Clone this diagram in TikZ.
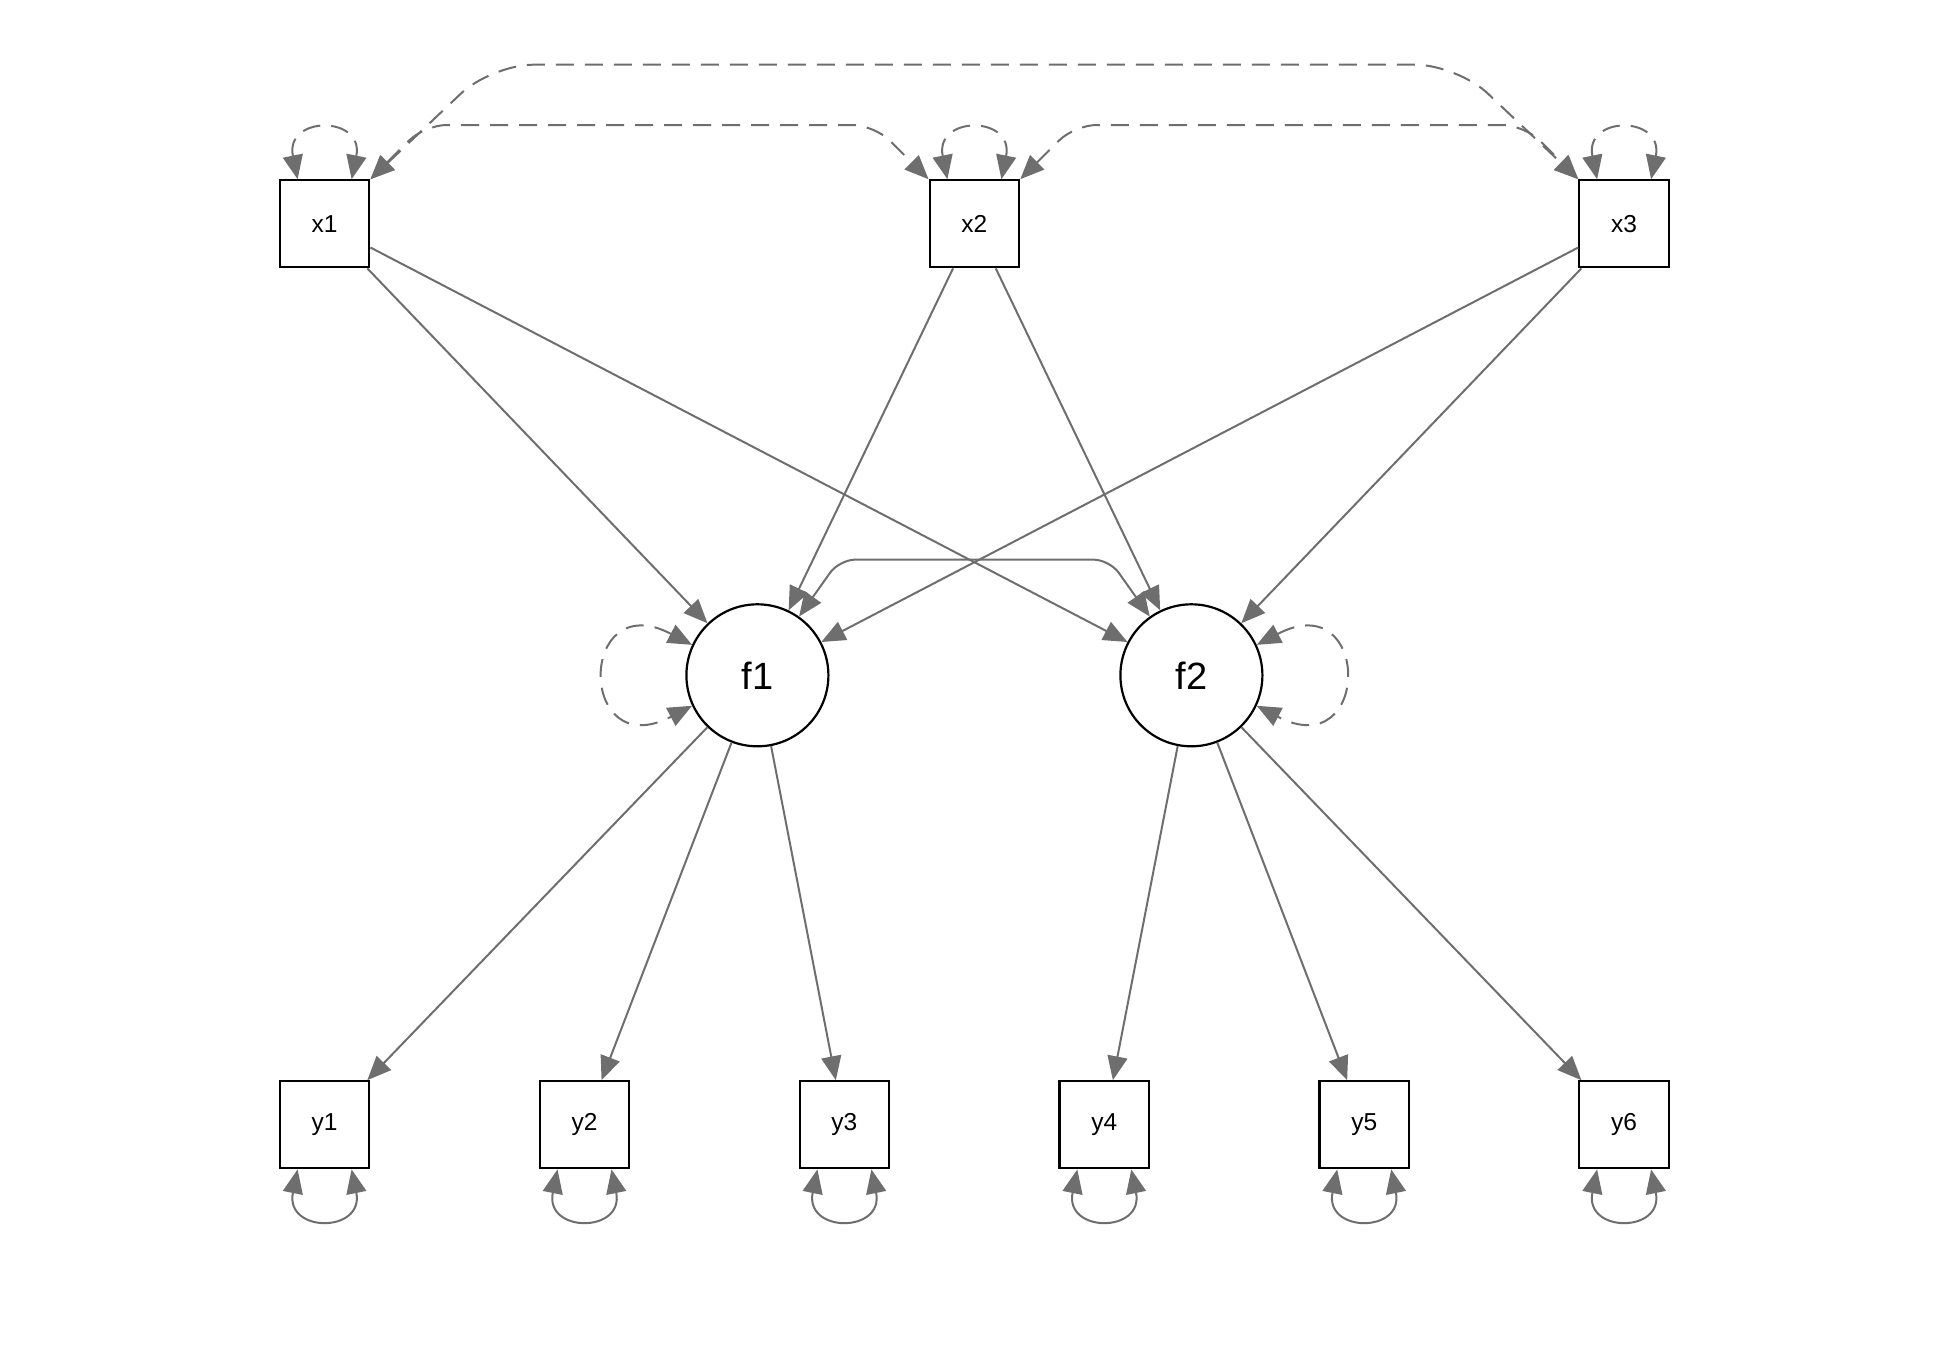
\documentclass[tikz,border=0pt]{standalone}
\usepackage{fontspec}
\setmainfont{Liberation Sans}
\usetikzlibrary{arrows.meta}
\definecolor{edgegray}{HTML}{6E6E6E}
\begin{document}
\begin{tikzpicture}[x=1pt,y=-1pt,
  obs/.style={draw=black,line width=2.2pt,fill=white,minimum width=89.5pt,
    minimum height=87pt,inner sep=0pt,font=\fontsize{24.5}{29}\selectfont},
  lat/.style={circle,draw=black,line width=2.2pt,fill=white,minimum size=142pt,
    inner sep=0pt,font=\fontsize{38}{45}\selectfont},
  reg/.style={draw=edgegray,line width=2pt,-{Triangle[length=24pt,width=20pt]}},
  cov/.style={draw=edgegray,line width=2pt,
    {Triangle[length=24pt,width=20pt]}-{Triangle[length=24pt,width=20pt]}},
  dashline/.style={dash pattern=on 18pt off 11pt}
]
\useasboundingbox (0,0) rectangle (1950,1350);

% exogenous observed variables
\node[obs] (x1) at (324.6,223.8) {x1};
\node[obs] (x2) at (974.4,223.8) {x2};
\node[obs] (x3) at (1624.1,223.8) {x3};

% latent factors
\node[lat] (f1) at (757.4,675.3) {f1};
\node[lat] (f2) at (1191.4,675.3) {f2};

% indicators
\node[obs] (y1) at (324.6,1124.8) {y1};
\node[obs] (y2) at (584.5,1124.8) {y2};
\node[obs] (y3) at (844.4,1124.8) {y3};
\node[obs] (y4) at (1104.3,1124.8) {y4};
\node[obs] (y5) at (1364.2,1124.8) {y5};
\node[obs] (y6) at (1624.1,1124.8) {y6};

% structural paths
\foreach \x in {x1,x2,x3}{
  \draw[reg] (\x) -- (f1);
  \draw[reg] (\x) -- (f2);
}

% loadings
\foreach \y in {y1,y2,y3} \draw[reg] (f1) -- (\y);
\foreach \y in {y4,y5,y6} \draw[reg] (f2) -- (\y);

% covariances among the exogenous variables
\coordinate (a1) at (424.6,125);
\coordinate (a2) at (874.2,125);
\coordinate (b1) at (1074.6,125);
\coordinate (b2) at (1524.2,125);
\coordinate (o1) at (491.4,64.7);
\coordinate (o2) at (1457.4,64.7);
\draw[cov,dashline,rounded corners=22pt] (x1.north east) -- (a1) -- (a2) -- (x2.north west);
\draw[cov,dashline,rounded corners=22pt] (x2.north east) -- (b1) -- (b2) -- (x3.north west);
\draw[cov,dashline,rounded corners=42pt] (x1.north east) -- (o1) -- (o2) -- (x3.north west);

% factor covariance
\coordinate (c1) at (839.4,559.6);
\coordinate (c2) at (1109.4,559.6);
\draw[cov,rounded corners=16pt] (f1) -- (c1) -- (c2) -- (f2);

% variances of the exogenous variables
\foreach \x in {x1,x2,x3}
  \draw[cov,dashline] ([xshift=-27pt]\x.north) .. controls +(-13,-64) and +(13,-64) .. ([xshift=27pt]\x.north);

% residual variances of the indicators
\foreach \y in {y1,y2,y3,y4,y5,y6}
  \draw[cov] ([xshift=-27pt]\y.south) .. controls +(-13,64) and +(13,64) .. ([xshift=27pt]\y.south);

% factor variances
\draw[cov,dashline] (f1.155) .. controls +(-115,-60) and +(-115,60) .. (f1.205);
\draw[cov,dashline] (f2.25) .. controls +(115,-60) and +(115,60) .. (f2.-25);
\end{tikzpicture}
\end{document}
